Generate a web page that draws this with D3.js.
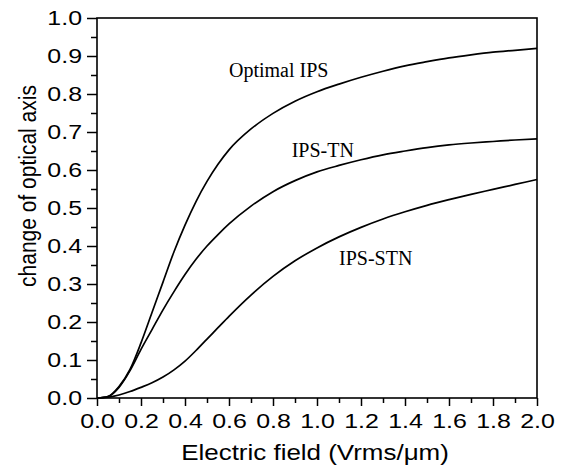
<!DOCTYPE html>
<html><head><meta charset="utf-8">
<script src="https://cdn.jsdelivr.net/npm/d3@7"></script>
<style>body{margin:0;background:#fff}</style>
</head><body>
<svg id="chart" width="562" height="466"></svg>
<script>
const xValues   = [0, 0.05, 0.1, 0.15, 0.2, 0.25, 0.3, 0.35, 0.4, 0.45, 0.5, 0.55, 0.6, 0.7, 0.8, 0.9, 1.0, 1.1, 1.2, 1.3, 1.4, 1.5, 1.6, 1.7, 1.8, 1.9, 2.0];
const optimalIPS = [0, 0.004, 0.03, 0.075, 0.145, 0.225, 0.305, 0.385, 0.455, 0.517, 0.57, 0.615, 0.653, 0.708, 0.749, 0.781, 0.806, 0.826, 0.844, 0.86, 0.874, 0.885, 0.895, 0.903, 0.91, 0.915, 0.92];
const ipsTN      = [0, 0.004, 0.028, 0.072, 0.128, 0.18, 0.232, 0.28, 0.325, 0.365, 0.4, 0.43, 0.458, 0.505, 0.543, 0.572, 0.595, 0.612, 0.627, 0.64, 0.65, 0.659, 0.666, 0.671, 0.675, 0.679, 0.682];
const ipsSTN     = [0, 0.002, 0.008, 0.017, 0.028, 0.04, 0.055, 0.074, 0.097, 0.125, 0.155, 0.185, 0.215, 0.271, 0.32, 0.361, 0.395, 0.424, 0.449, 0.471, 0.49, 0.507, 0.522, 0.536, 0.549, 0.562, 0.575];
const seriesNames = ["Optimal IPS", "IPS-TN", "IPS-STN"];
const labelAnchors = [[0.6, 0.845], [0.885, 0.634], [1.1, 0.35]];
const xTicks = [0, 0.2, 0.4, 0.6, 0.8, 1.0, 1.2, 1.4, 1.6, 1.8, 2.0];
const xMinorTicks = [0.1, 0.3, 0.5, 0.7, 0.9, 1.1, 1.3, 1.5, 1.7, 1.9];
const yTicks = [0, 0.1, 0.2, 0.3, 0.4, 0.5, 0.6, 0.7, 0.8, 0.9, 1.0];
const yMinorTicks = [0.05, 0.15, 0.25, 0.35, 0.45, 0.55, 0.65, 0.75, 0.85, 0.95];
const xTitle = "Electric field (Vrms/\u03bcm)";
const yTitle = "change of optical axis";

const svg = d3.select("#chart");
const m = {left: 97, top: 18, right: 537, bottom: 398};
const x = d3.scaleLinear().domain([0, 2]).range([m.left, m.right]);
const y = d3.scaleLinear().domain([0, 1]).range([m.bottom, m.top]);
const SX = 1.28;
const sans = "'Liberation Sans', Arial, sans-serif";

// frame
svg.append("rect").attr("x", m.left).attr("y", m.top)
  .attr("width", m.right - m.left).attr("height", m.bottom - m.top)
  .attr("fill", "none").attr("stroke", "#000").attr("stroke-width", 1.6);

// x axis
const gx = svg.append("g").attr("transform", `translate(0,${m.bottom})`)
  .call(d3.axisBottom(x).tickValues(xTicks).tickSize(8).tickPadding(8).tickFormat(d3.format(".1f")));
svg.append("g").attr("transform", `translate(0,${m.bottom})`)
  .call(d3.axisBottom(x).tickValues(xMinorTicks).tickSize(5).tickFormat(""));
// y axis
const gy = svg.append("g").attr("transform", `translate(${m.left},0)`)
  .call(d3.axisLeft(y).tickValues(yTicks).tickSize(10).tickPadding(5).tickFormat(d3.format(".1f")));
svg.append("g").attr("transform", `translate(${m.left},0)`)
  .call(d3.axisLeft(y).tickValues(yMinorTicks).tickSize(6).tickFormat(""));

svg.selectAll(".domain").remove();
svg.selectAll(".tick line").attr("stroke", "#000").attr("stroke-width", 1.5);
svg.selectAll(".tick text").attr("font-family", sans).attr("font-size", 19.5).attr("fill", "#000");
gx.selectAll(".tick text").attr("transform", `scale(${SX},1)`);
gy.selectAll(".tick text").attr("x", -15 / SX).attr("transform", `scale(${SX},1)`);

// curves
const line = d3.line().x((d, i) => x(xValues[i])).y(d => y(d)).curve(d3.curveMonotoneX);
[optimalIPS, ipsTN, ipsSTN].forEach(s => {
  svg.append("path").datum(s).attr("d", line)
    .attr("fill", "none").attr("stroke", "#000").attr("stroke-width", 1.7);
});

// labels
seriesNames.forEach((n, i) => {
  svg.append("text").attr("x", x(labelAnchors[i][0])).attr("y", y(labelAnchors[i][1]))
    .attr("font-family", "'Liberation Serif', 'Times New Roman', serif")
    .attr("font-size", 20).attr("fill", "#000").text(n);
});

// axis titles
svg.append("text").attr("transform", `translate(${(m.left + m.right) / 2 - 2},460) scale(1.18,1)`)
  .attr("text-anchor", "middle").attr("font-family", sans).attr("font-size", 22)
  .attr("fill", "#000").text(xTitle);
svg.append("text").attr("transform", `translate(36,186) scale(1.15,1) rotate(-90)`)
  .attr("text-anchor", "middle").attr("font-family", sans).attr("font-size", 21)
  .attr("fill", "#000").text(yTitle);
</script>
</body></html>
